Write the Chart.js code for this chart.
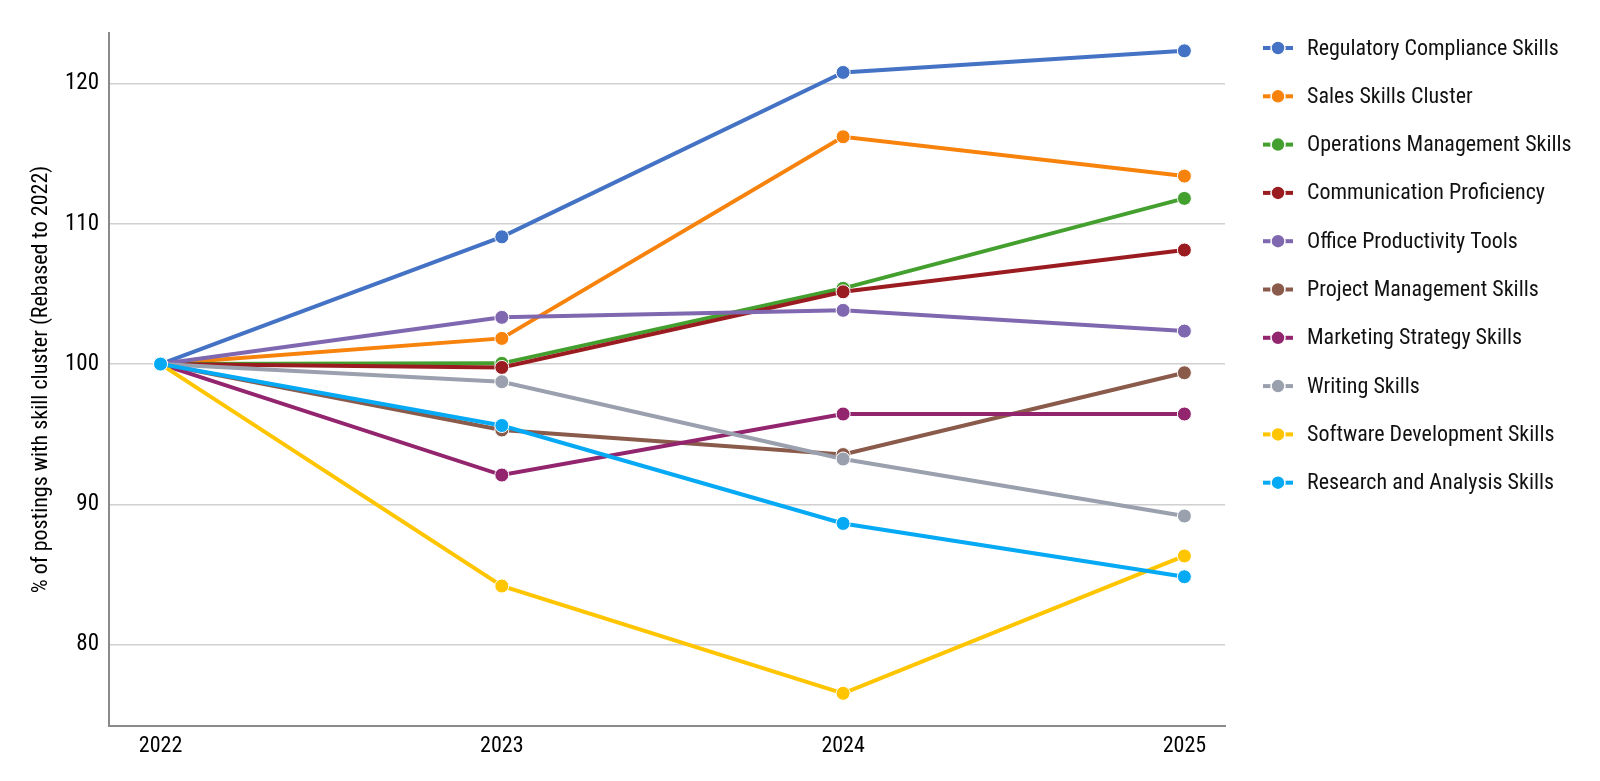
<!DOCTYPE html>
<html>
<head>
<meta charset="utf-8">
<title>Skill clusters rebased to 2022</title>
<script src="https://cdn.jsdelivr.net/npm/chart.js@4.4.1/dist/chart.umd.min.js"></script>
<style>
  html, body { margin: 0; padding: 0; background: #fff; }
  #wrap { width: 1600px; height: 781px; }
</style>
</head>
<body>
<div id="wrap"><canvas id="chart" width="1600" height="781"></canvas></div>
<script>
// Dados (índice, 2022 = 100)
const years = [2022, 2023, 2024, 2025];
const yTicks = [80, 90, 100, 110, 120];

const seriesNames = [
  "Regulatory Compliance Skills",
  "Sales Skills Cluster",
  "Operations Management Skills",
  "Communication Proficiency",
  "Office Productivity Tools",
  "Project Management Skills",
  "Marketing Strategy Skills",
  "Writing Skills",
  "Software Development Skills",
  "Research and Analysis Skills"
];

const regulatory    = [100, 109.07, 120.79, 122.33];
const sales         = [100, 101.83, 116.2, 113.4];
const operations    = [100, 100.05, 105.4, 111.81];
const communication = [100, 99.76, 105.15, 108.13];
const office        = [100, 103.33, 103.83, 102.35];
const project       = [100, 95.3, 93.55, 99.38];
const marketing     = [100, 92.09, 96.44, 96.44];
const writing       = [100, 98.74, 93.23, 89.17];
const software      = [100, 84.18, 76.53, 86.32];
const research      = [100, 95.62, 88.64, 84.84];

const seriesValues = [regulatory, sales, operations, communication, office,
  project, marketing, writing, software, research];

const colors = ["#4472C4", "#F7820C", "#43A02E", "#9B1C20", "#7F68B0",
  "#8A5A4B", "#93246E", "#9AA0AE", "#FFC500", "#06A9F4"];

const FONT = "'Liberation Sans Narrow', 'Roboto Condensed', 'DejaVu Sans Condensed', Roboto, sans-serif";

const datasets = seriesNames.map((name, i) => ({
  label: name,
  data: years.map((yr, j) => ({ x: yr, y: seriesValues[i][j] })),
  borderColor: colors[i],
  backgroundColor: colors[i],
  pointBackgroundColor: colors[i],
  pointBorderColor: '#ffffff',
  pointBorderWidth: 1,
  pointRadius: 7,
  borderWidth: 4,
  tension: 0,
  fill: false,
  order: seriesNames.length - i
}));

// Legenda desenhada à direita (linha + círculo)
const sideLegend = {
  id: 'sideLegend',
  afterDraw(chart) {
    const ctx = chart.ctx;
    ctx.save();
    chart.data.datasets.forEach((ds, i) => {
      const cy = 48 + i * 48.3;
      ctx.strokeStyle = ds.borderColor;
      ctx.lineWidth = 4;
      ctx.beginPath();
      ctx.moveTo(1263, cy);
      ctx.lineTo(1293, cy);
      ctx.stroke();
      ctx.beginPath();
      ctx.arc(1278, cy, 7, 0, Math.PI * 2);
      ctx.fillStyle = ds.borderColor;
      ctx.fill();
      ctx.lineWidth = 1.5;
      ctx.strokeStyle = '#ffffff';
      ctx.stroke();
      ctx.fillStyle = '#111111';
      ctx.font = "22px " + FONT;
      ctx.textBaseline = 'middle';
      ctx.textAlign = 'left';
      ctx.fillText(ds.label, 1307, cy + 1);
    });
    ctx.restore();
  }
};

const ctx = document.getElementById('chart').getContext('2d');
new Chart(ctx, {
  type: 'line',
  data: { datasets },
  plugins: [sideLegend],
  options: {
    responsive: false,
    animation: false,
    devicePixelRatio: 1,
    events: [],
    layout: { padding: { left: 0, top: 33, right: 375, bottom: 0 } },
    plugins: {
      legend: { display: false },
      tooltip: { enabled: false }
    },
    scales: {
      x: {
        type: 'linear',
        min: 2021.849,
        max: 2025.119,
        afterBuildTicks: scale => { scale.ticks = years.map(v => ({ value: v })); },
        afterFit: scale => { scale.height = 55; },
        grid: { display: false, drawTicks: false },
        border: { display: true, color: '#8a8a8a', width: 2 },
        ticks: {
          padding: 7,
          color: '#000',
          font: { family: FONT, size: 22 },
          callback: v => String(v)
        }
      },
      y: {
        min: 74.2,
        max: 123.6,
        afterBuildTicks: scale => { scale.ticks = yTicks.map(v => ({ value: v })); },
        afterFit: scale => { scale.width = 109; },
        grid: { color: '#d0d0d0', lineWidth: 1.5, drawTicks: false },
        border: { display: true, color: '#8a8a8a', width: 2 },
        ticks: {
          padding: 10,
          color: '#000',
          font: { family: FONT, size: 23 }
        },
        title: {
          display: true,
          text: '% of postings with skill cluster (Rebased to 2022)',
          color: '#000',
          font: { family: FONT, size: 22 },
          padding: { top: 28, bottom: 0 }
        }
      }
    }
  }
});
</script>
</body>
</html>
